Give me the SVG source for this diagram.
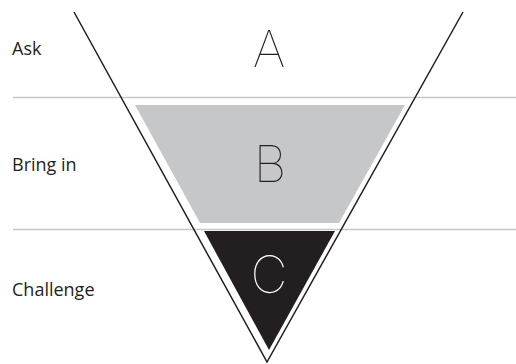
<svg xmlns="http://www.w3.org/2000/svg" width="516" height="364" viewBox="0 0 516 364">
<style>
.label{font-family:"Open Sans","Liberation Sans",sans-serif;font-size:18px;fill:#231f20}
.letter{font-family:Inter,"DejaVu Sans",sans-serif;font-weight:100;font-size:51px;text-anchor:middle}
.rule{stroke:#c8c8c8;stroke-width:1.5;fill:none}
.edge{stroke:#231f20;stroke-width:1.5;fill:none}
</style>
<rect width="516" height="364" fill="#fff"/>
<g id="rules">
<line class="rule" x1="13" y1="97.5" x2="516" y2="97.5"/>
<line class="rule" x1="13" y1="229.5" x2="516" y2="229.5"/>
</g>
<g id="connectors">
<polyline class="edge" points="74,12 267,362 463,12"/>
</g>
<g id="node-a">
<text class="label" x="12" y="55">Ask</text>
<text class="letter" x="269" y="67" fill="#231f20">A</text>
</g>
<g id="node-b">
<polygon points="135,105 405,105 339,223 200,223" fill="#c6c7c8"/>
<text class="label" x="12" y="171">Bring in</text>
<text class="letter" x="270" y="182" fill="#231f20">B</text>
</g>
<g id="node-c">
<polygon points="204,231 335,231 269,350" fill="#231f20"/>
<text class="label" x="12" y="296">Challenge</text>
<text class="letter" x="269" y="293" fill="#fff">C</text>
</g>
</svg>
